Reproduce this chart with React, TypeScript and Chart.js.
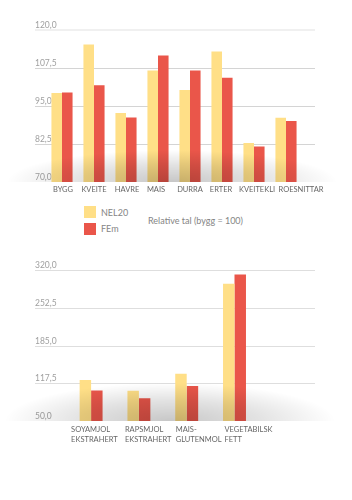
import React, { useEffect, useRef } from 'react';
import { Chart, registerables } from 'chart.js';

Chart.register(...registerables);

// ---------- data ----------
const categories1 = ['BYGG', 'KVEITE', 'HAVRE', 'MAIS', 'DURRA', 'ERTER', 'KVEITEKLI', 'ROESNITTAR'];
const nel1 = [99.3, 115.2, 92.7, 106.7, 100.3, 112.9, 82.8, 91.1];
const fem1 = [99.4, 101.8, 91.2, 111.6, 106.7, 104.3, 81.7, 90.1];
const yTicks1 = [70, 120, 12.5]; // min, max, step

const categories2 = [
  ['SOYAMJOL', 'EKSTRAHERT'],
  ['RAPSMJOL', 'EKSTRAHERT'],
  ['MAIS-', 'GLUTENMOL'],
  ['VEGETABILSK', 'FETT'],
];
const nel2 = [123.5, 104, 134.5, 295.5];
const fem2 = [104.7, 90.7, 112.6, 312];
const yTicks2 = [50, 320, 67.5];

const seriesNames = ['NEL20', 'FEm'];
const legendNote = 'Relative tal (bygg = 100)';

// ---------- style ----------
const YELLOW = '#FFDF87';
const RED = '#EA564A';
const FONT = 'Lato, "Open Sans", sans-serif';
// horizontal nudges of category labels relative to their tick (style only)
const labelNudge1 = [1, 0, 1, -2, 0, -1, 3, 15];
const labelNudge2 = [-20, -14, -11, -10];

const gridPlugin = {
  id: 'extGrid',
  beforeDatasetsDraw(chart: any, _a: any, opts: any) {
    const y = chart.scales.y;
    const ctx = chart.ctx;
    ctx.save();
    y.ticks.forEach((t: any) => {
      if (Math.abs(t.value - y.min) < 1e-6) return;
      const isTop = Math.abs(t.value - y.max) < 1e-6;
      const lw = isTop ? opts.topWidth : 1;
      const py = Math.round(y.getPixelForValue(t.value)) + (lw % 2 ? 0.5 : 0);
      ctx.strokeStyle = isTop ? opts.topColor : opts.color;
      ctx.lineWidth = lw;
      ctx.beginPath();
      ctx.moveTo(opts.x1, py);
      ctx.lineTo(opts.x2, py);
      ctx.stroke();
    });
    ctx.restore();
  },
};

const shadowPlugin = {
  id: 'floorShadow',
  afterDatasetsDraw(chart: any, _a: any, opts: any) {
    const y = chart.scales.y;
    const ctx = chart.ctx;
    const base = y.getPixelForValue(y.min);
    ctx.save();
    ctx.beginPath();
    ctx.rect(0, base - opts.ry, chart.width, opts.ry);
    ctx.clip();
    ctx.translate(opts.cx, base);
    ctx.scale(1, opts.ry / opts.rx);
    const g = ctx.createRadialGradient(0, 0, 0, 0, 0, opts.rx);
    g.addColorStop(0, 'rgba(0,0,0,0.22)');
    g.addColorStop(0.55, 'rgba(0,0,0,0.11)');
    g.addColorStop(1, 'rgba(0,0,0,0)');
    ctx.fillStyle = g;
    ctx.fillRect(-opts.rx, -opts.rx, opts.rx * 2, opts.rx * 2);
    ctx.restore();
  },
};

// category labels drawn at the x scale's category pixels
const catLabelPlugin = {
  id: 'catLabels',
  afterDraw(chart: any, _a: any, opts: any) {
    const x = chart.scales.x;
    const ctx = chart.ctx;
    const bottom = chart.chartArea.bottom;
    ctx.save();
    ctx.font = `${opts.size}px ${FONT}`;
    ctx.fillStyle = opts.color;
    ctx.textAlign = opts.align;
    ctx.textBaseline = 'middle';
    (chart.data.labels as any[]).forEach((lab, i) => {
      const lines = Array.isArray(lab) ? lab : [lab];
      const px = x.getPixelForValue(i) + (opts.nudge[i] || 0);
      lines.forEach((ln: string, j: number) => {
        ctx.fillText(ln, px, bottom + opts.padding + opts.lineHeight * (j + 0.5));
      });
    });
    ctx.restore();
  },
};

type Props = {
  labels: any[];
  a: number[];
  b: number[];
  yt: number[];
  top: number;
  height: number;
  pad: { left: number; right: number; top: number; bottom: number };
  axisWidth: number;
  catPct: number;
  catLabels: any;
  gridColor: string;
  topColor: string;
  topWidth: number;
  shadow: { cx: number; rx: number; ry: number };
};

function BarChart(p: Props) {
  const ref = useRef<HTMLCanvasElement>(null);
  useEffect(() => {
    if (!ref.current) return;
    const chart = new Chart(ref.current, {
      type: 'bar',
      data: {
        labels: p.labels,
        datasets: [
          { label: seriesNames[0], data: p.a, backgroundColor: YELLOW, borderWidth: 0 },
          { label: seriesNames[1], data: p.b, backgroundColor: RED, borderWidth: 0 },
        ],
      },
      plugins: [gridPlugin, shadowPlugin, catLabelPlugin],
      options: {
        animation: false,
        responsive: false,
        layout: { padding: p.pad },
        datasets: { bar: { categoryPercentage: p.catPct, barPercentage: 1 } },
        plugins: {
          legend: { display: false },
          tooltip: { enabled: false },
          extGrid: { x1: 35, x2: 315, color: p.gridColor, topColor: p.topColor, topWidth: p.topWidth },
          floorShadow: p.shadow,
          catLabels: p.catLabels,
        } as any,
        scales: {
          x: {
            display: false,
          },
          y: {
            min: p.yt[0],
            max: p.yt[1],
            grid: { display: false, drawTicks: false },
            border: { display: false },
            ticks: {
              stepSize: p.yt[2],
              mirror: true,
              padding: -p.axisWidth,
              labelOffset: -4.5,
              color: '#a0a0a0',
              font: { family: FONT, size: 8.5 },
              callback: (v: any) => Number(v).toFixed(1).replace('.', ','),
            },
            afterFit: (s: any) => {
              s.width = p.axisWidth;
            },
          },
        },
      },
    });
    return () => chart.destroy();
  }, []);
  return (
    <canvas
      ref={ref}
      width={352}
      height={p.height}
      style={{ position: 'absolute', left: 0, top: p.top, width: 352, height: p.height, display: 'block' }}
    />
  );
}

export default function App() {
  const legendText: React.CSSProperties = {
    position: 'absolute',
    fontFamily: FONT,
    fontSize: 9,
    color: '#858585',
    lineHeight: '10px',
    whiteSpace: 'nowrap',
  };
  return (
    <div style={{ position: 'absolute', left: 0, top: 0, width: 352, height: 500, background: '#fff' }}>
      <BarChart
        labels={categories1}
        a={nel1}
        b={fem1}
        yt={yTicks1}
        top={0}
        height={200}
        pad={{ left: 35, right: 50, top: 30, bottom: 18 }}
        axisWidth={11}
        catPct={0.66}
        catLabels={{ size: 7.5, color: '#666666', align: 'center', padding: 3, lineHeight: 10, nudge: labelNudge1 }}
        gridColor="#d4d4d4"
        topColor="#f0f0f0"
        topWidth={2}
        shadow={{ cx: 172, rx: 165, ry: 32 }}
      />
      <div style={{ position: 'absolute', left: 84, top: 206, width: 12, height: 12, background: YELLOW }} />
      <div style={{ position: 'absolute', left: 84, top: 223, width: 12, height: 12, background: RED }} />
      <div style={{ ...legendText, left: 101, top: 208 }}>{seriesNames[0]}</div>
      <div style={{ ...legendText, left: 101, top: 224 }}>{seriesNames[1]}</div>
      <div style={{ ...legendText, left: 148, top: 216 }}>{legendNote}</div>
      <BarChart
        labels={categories2}
        a={nel2}
        b={fem2}
        yt={yTicks2}
        top={240}
        height={220}
        pad={{ left: 35, right: 93.6, top: 30, bottom: 39 }}
        axisWidth={32.2}
        catPct={0.48}
        catLabels={{ size: 7.5, color: '#666666', align: 'left', padding: 4, lineHeight: 10, nudge: labelNudge2 }}
        gridColor="#dedede"
        topColor="#dedede"
        topWidth={1}
        shadow={{ cx: 170, rx: 165, ry: 38 }}
      />
    </div>
  );
}
